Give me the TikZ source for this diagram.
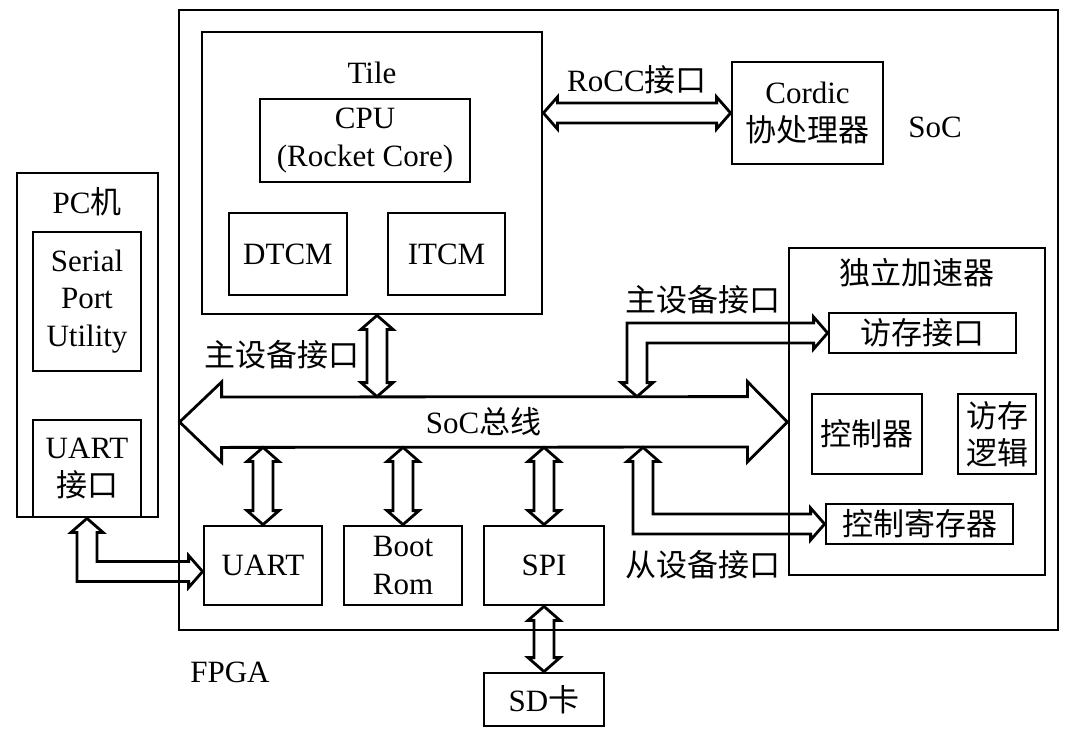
\documentclass[tikz,border=0pt]{standalone}
\usepackage{fontspec}
\setmainfont{Liberation Serif}
\newfontfamily\cjk{Noto Sans CJK SC}
\usepackage{tikz}
\usetikzlibrary{calc}

\tikzset{
  blk/.style={draw,rectangle,line width=1.4pt,inner sep=0pt,align=center},
  sz/.style 2 args={minimum width={#1*0.5pt},minimum height={#2*0.5pt}},
  hollow/.style={draw,line width=1.4pt,line join=miter},
}

% two-headed hollow arrow, vertical: #1 upper tip, #2 lower tip
\newcommand{\vbi}[2]{%
  \path[hollow] let \p1=(#1), \p2=(#2) in
    (\x1,\y1) -- (\x1+8pt,\y1-7pt) -- (\x1+5pt,\y1-7pt) -- (\x1+5pt,\y2+7pt)
    -- (\x1+8pt,\y2+7pt) -- (\x1,\y2) -- (\x1-8pt,\y2+7pt) -- (\x1-5pt,\y2+7pt)
    -- (\x1-5pt,\y1-7pt) -- (\x1-8pt,\y1-7pt) -- cycle;}

% two-headed hollow arrow, horizontal: #1 left tip, #2 right tip
\newcommand{\hbi}[2]{%
  \path[hollow] let \p1=(#1), \p2=(#2) in
    (\x1,\y1) -- (\x1+7pt,\y1+8pt) -- (\x1+7pt,\y1+5pt) -- (\x2-7pt,\y1+5pt)
    -- (\x2-7pt,\y1+8pt) -- (\x2,\y1) -- (\x2-7pt,\y1-8pt) -- (\x2-7pt,\y1-5pt)
    -- (\x1+7pt,\y1-5pt) -- (\x1+7pt,\y1-8pt) -- cycle;}

% bent two-headed arrow: #1 tip of the vertical leg, #2 tip of the horizontal leg,
% #3 = 1 when the leg runs down from #1, -1 when it runs up
\newcommand{\lbi}[3]{%
  \path[hollow] let \p1=(#1), \p2=(#2), \n1={#3} in
    (\x1,\y1) -- (\x1+8pt,\y1-\n1*7pt) -- (\x1+5pt,\y1-\n1*7pt)
    -- (\x1+5pt,\y2+\n1*5pt) -- (\x2-7pt,\y2+\n1*5pt) -- (\x2-7pt,\y2+\n1*8pt)
    -- (\x2,\y2) -- (\x2-7pt,\y2-\n1*8pt) -- (\x2-7pt,\y2-\n1*5pt)
    -- (\x1-5pt,\y2-\n1*5pt) -- (\x1-5pt,\y1-\n1*7pt) -- (\x1-8pt,\y1-\n1*7pt)
    -- cycle;}

\begin{document}
\begin{tikzpicture}[x=0.5pt,y=-0.5pt,font=\fontsize{15.5}{18.75}\selectfont]

  \useasboundingbox (0,0) rectangle (1080,738);

  % FPGA / SoC
  \node[blk, sz={879}{620}] (fpga) at (618.5,320) {};
  \node (soclab) at (935,127) {SoC};
  \node (fpgalab) at (230,672) {FPGA};

  % tile
  \node[blk, sz={340}{282}] (tile) at (372,173) {};
  \node (tilelab) at (372,73) {Tile};
  \node[blk, sz={210}{83}] (cpu) at (365,140.5) {CPU\\(Rocket Core)};
  \node[blk, sz={118}{82}] (dtcm) at (288,254) {DTCM};
  \node[blk, sz={117}{82}] (itcm) at (446.5,254) {ITCM};

  \node[blk, sz={151}{102}] (cordic) at (807.5,113) {Cordic\\{\cjk 协处理器}};
  \node (rocclab) at (637,80) {RoCC{\cjk 接口}};

  % PC
  \node[blk, sz={141}{344}] (pc) at (87.5,345) {};
  \node (pclab) at (87,202) {PC{\cjk 机}};
  \node[blk, sz={108}{139}] (spu) at (87,301.5) {Serial\\Port\\Utility};
  \node[blk, sz={108}{97}] (uartif) at (87,468.5) {UART\\{\cjk 接口}};

  % peripherals
  \node[blk, sz={118}{79}] (uart) at (263,565.5) {UART};
  \node[blk, sz={118}{79}] (brom) at (403,565.5) {Boot\\Rom};
  \node[blk, sz={120}{79}] (spi) at (544,565.5) {SPI};
  \node[blk, sz={120}{53}] (sd) at (544,699.5) {SD{\cjk 卡}};

  % accelerator
  \node[blk, sz={256}{327}] (acc) at (917,411.5) {};
  \node (acclab) at (917,273) {\cjk 独立加速器};
  \node[blk, sz={187}{40}] (mem) at (922.5,333) {\cjk 访存接口};
  \node[blk, sz={110}{80}] (ctrl) at (867,434) {\cjk 控制器};
  \node[blk, sz={78}{80}] (memlog) at (997,434) {{\cjk 访存}\\{\cjk 逻辑}};
  \node[blk, sz={187}{40}] (creg) at (919.5,524) {\cjk 控制寄存器};

  \node (mlab1) at (282,355) {\cjk 主设备接口};
  \node (mlab2) at (703,300) {\cjk 主设备接口};
  \node (slab) at (703,565) {\cjk 从设备接口};

  % bus
  \node[minimum width=303.5pt,minimum height=25pt,inner sep=0pt] (bus) at (483.5,422) {SoC{\cjk 总线}};
  \path[hollow] (bus.west) -- ++(21pt,20pt) -- ++(0,-7.5pt)
    -- ($(bus.north east)+(-20pt,0)$) -- ++(0,7.5pt) -- (bus.east)
    -- ++(-20pt,-20pt) -- ++(0,7.5pt) -- ($(bus.south west)+(21pt,0)$)
    -- ++(0,-7.5pt) -- cycle;

  \vbi{$(tile.south)+(2.5pt,0)$}{bus.north}
  \vbi{bus.south -| uart.north}{uart.north}
  \vbi{bus.south -| brom.north}{brom.north}
  \vbi{bus.south -| spi.north}{spi.north}
  \vbi{spi.south}{sd.north}
  \hbi{tile.east |- cordic.west}{cordic.west}

  \lbi{uartif.south}{$(uart.west)+(0,-3pt)$}{1}
  \lbi{$(bus.north)+(76.75pt,0)$}{mem.west}{-1}
  \lbi{$(bus.south)+(79.75pt,0)$}{creg.west}{1}

\end{tikzpicture}
\end{document}
